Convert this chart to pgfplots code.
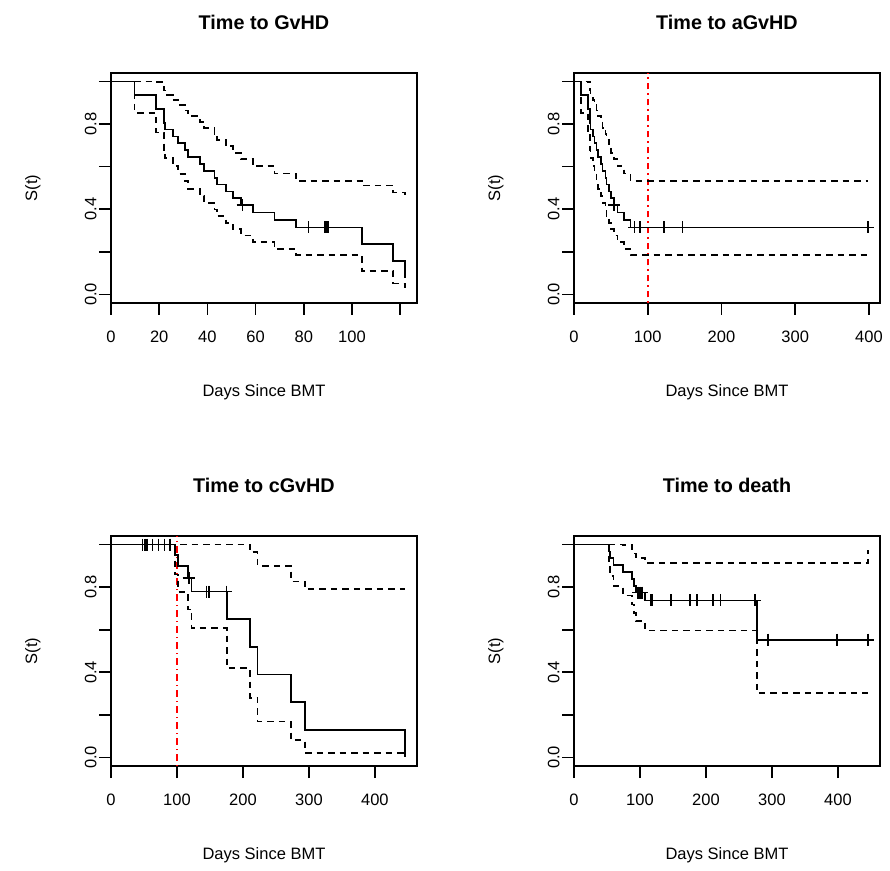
\documentclass[border=0pt]{standalone}
\usepackage{fontspec}
\setmainfont{Liberation Sans}
\usepackage{pgfplots}
\pgfplotsset{compat=1.18}
\pgfplotsset{
  km/.style={
    scale only axis, width=306pt, height=230pt, anchor=south west,
    xmin=0, ymin=-0.04, ymax=1.04,
    axis line style={line width=1.6pt},
    tick align=outside, xtick pos=left, ytick pos=left,
    major tick length=12pt,
    every tick/.style={black, line width=1.6pt},
    ytick={0,0.2,0.4,0.6,0.8,1},
    yticklabels={0.0,,0.4,,0.8,},
    tick label style={font=\fontsize{16.5}{19}\selectfont},
    yticklabel style={rotate=90, anchor=south},
    xticklabel style={anchor=north},
    xticklabel shift=12pt, yticklabel shift=-1pt,
    every axis y label/.style={at={(axis description cs:-0.255,0.5)}, rotate=90, anchor=center, font=\fontsize{16.5}{19}\selectfont},
    every axis x label/.style={at={(axis description cs:0.5,-0.387)}, anchor=center, font=\fontsize{16.5}{19}\selectfont},
    every axis title/.style={at={(axis description cs:0.5,1.222)}, anchor=center, font=\fontsize{19.8}{23}\selectfont\bfseries},
    ylabel={S(t)}, xlabel={Days Since BMT},
    clip=false,
  },
  curve/.style={const plot, black, line width=1.7pt, mark=none},
  ci/.style={const plot, black, line width=1.7pt, mark=none, dash pattern=on 6.5pt off 5pt},
  cens/.style={only marks, black, mark=+, mark size=6pt, mark options={line width=1.6pt, solid}},
  redv/.style={color=red, line width=1.7pt, mark=none, dash pattern=on 1.5pt off 4pt on 6.5pt off 4pt},
}
\begin{document}
\begin{tikzpicture}
\useasboundingbox (0,0) rectangle (890pt,870pt);
% Panel 1: GvHD
\begin{axis}[km, at={(111pt,567pt)}, xmax=127.0, xtick={0,20,40,60,80,100,120}, xticklabels={0,20,40,60,80,100,}, title={Time to GvHD}]
\addplot[curve] coordinates {(0,1) (9.8,0.9355) (18.7,0.8710) (21.9,0.8065) (22.5,0.7742) (25.6,0.7419) (27.9,0.7097) (30.7,0.6774) (32.1,0.6452) (36.9,0.6129) (38.7,0.5806) (42.9,0.5484) (44.0,0.5161) (47.7,0.4839) (50.5,0.4516) (53.9,0.4194) (58.8,0.3844) (67.8,0.3495) (76.8,0.3145) (104.1,0.2359) (117.1,0.1573) (122.1,0.0786)};
\addplot[ci] coordinates {(0,1) (18.7,0.9974) (21.9,0.9582) (22.5,0.9363) (25.6,0.9131) (27.9,0.8889) (30.7,0.8637) (32.1,0.8377) (36.9,0.8108) (38.7,0.7831) (42.9,0.7548) (44.0,0.7257) (47.7,0.6961) (50.5,0.6656) (53.9,0.6346) (58.8,0.6017) (67.8,0.5679) (76.8,0.5330) (104.1,0.5113) (117.1,0.4787) (122.1,0.4649)};
\addplot[ci] coordinates {(0,1) (9.8,0.8529) (18.7,0.7606) (21.9,0.6787) (22.5,0.6401) (25.6,0.6028) (27.9,0.5666) (30.7,0.5313) (32.1,0.4969) (36.9,0.4633) (38.7,0.4305) (42.9,0.3984) (44.0,0.3670) (47.7,0.3364) (50.5,0.3064) (53.9,0.2772) (58.8,0.2456) (67.8,0.2151) (76.8,0.1856) (104.1,0.1088) (117.1,0.0517) (122.1,0.0133)};
\addplot[cens] coordinates {(54.6,0.4194) (82.0,0.3145) (88.9,0.3145) (89.6,0.3145) (90.3,0.3145)};
\end{axis}
% Panel 2: aGvHD
\begin{axis}[km, at={(574pt,567pt)}, xmax=415, xtick={0,100,200,300,400}, xticklabels={0,100,200,300,400}, title={Time to aGvHD}]
\addplot[redv] coordinates {(100,-0.04) (100,1.04)};
\addplot[curve] coordinates {(0,1) (9.8,0.9355) (18.7,0.8710) (21.9,0.8065) (22.5,0.7742) (25.6,0.7419) (27.9,0.7097) (30.7,0.6774) (32.1,0.6452) (36.9,0.6129) (38.7,0.5806) (42.9,0.5484) (44.0,0.5161) (47.7,0.4839) (50.5,0.4516) (53.9,0.4194) (58.8,0.3844) (67.8,0.3495) (76.8,0.3145) (399,0.3145)};
\addplot[ci] coordinates {(0,1) (18.7,0.9974) (21.9,0.9582) (22.5,0.9363) (25.6,0.9131) (27.9,0.8889) (30.7,0.8637) (32.1,0.8377) (36.9,0.8108) (38.7,0.7831) (42.9,0.7548) (44.0,0.7257) (47.7,0.6961) (50.5,0.6656) (53.9,0.6346) (58.8,0.6017) (67.8,0.5679) (76.8,0.5330) (399,0.5330)};
\addplot[ci] coordinates {(0,1) (9.8,0.8529) (18.7,0.7606) (21.9,0.6787) (22.5,0.6401) (25.6,0.6028) (27.9,0.5666) (30.7,0.5313) (32.1,0.4969) (36.9,0.4633) (38.7,0.4305) (42.9,0.3984) (44.0,0.3670) (47.7,0.3364) (50.5,0.3064) (53.9,0.2772) (58.8,0.2456) (67.8,0.2151) (76.8,0.1856) (399,0.1856)};
\addplot[cens] coordinates {(54.6,0.4194) (82.0,0.3145) (88.9,0.3145) (89.6,0.3145) (90.3,0.3145) (122,0.3145) (147,0.3145) (399,0.3145)};
\end{axis}
% Panel 3: cGvHD
\begin{axis}[km, at={(111pt,104pt)}, xmax=463.8, xtick={0,100,200,300,400}, xticklabels={0,100,200,300,400}, title={Time to cGvHD}]
\addplot[redv] coordinates {(100,-0.04) (100,1.04)};
\addplot[curve] coordinates {(0,1) (97.5,0.95) (102,0.9) (116.2,0.84375) (122.2,0.7788) (175.8,0.6490) (210.6,0.5192) (222.2,0.3894) (272.7,0.2596) (293.9,0.1298) (446,0)};
\addplot[ci] coordinates {(0,1) (210.6,0.9634) (222.2,0.9002) (272.7,0.8270) (293.9,0.7903) (446,0.7903)};
\addplot[ci] coordinates {(0,1) (97.5,0.8591) (102,0.7777) (116.2,0.6955) (122.2,0.6072) (175.8,0.4197) (210.6,0.2798) (222.2,0.1684) (272.7,0.0815) (293.9,0.0213) (446,0.0213)};
\addplot[cens] coordinates {(48,1) (51.5,1) (54.5,1) (63.1,1) (72.2,1) (80.8,1) (89.4,1) (117.5,0.84375) (118.3,0.84375) (145,0.7788) (147.5,0.7788) (148.3,0.7788) (175,0.7788)};
\end{axis}
% Panel 4: death
\begin{axis}[km, at={(574pt,104pt)}, xmax=463.8, xtick={0,100,200,300,400}, xticklabels={0,100,200,300,400}, title={Time to death}]
\addplot[curve] coordinates {(0,1) (53,0.9677) (54.5,0.9355) (60,0.9032) (74,0.8710) (87.5,0.8387) (91,0.8065) (94,0.7742) (108,0.7373) (277,0.5530) (446,0.5530)};
\addplot[ci] coordinates {(0,1) (74,0.9974) (87.5,0.9787) (91,0.9582) (94,0.9363) (108,0.9122) (446,0.9122) (446,0.975)};
\addplot[ci] coordinates {(0,1) (53,0.9075) (54.5,0.8529) (60,0.8049) (74,0.7606) (87.5,0.7187) (91,0.6787) (94,0.6401) (108,0.5960) (277,0.3021) (446,0.3021)};
\addplot[cens] coordinates {(97,0.7742) (100,0.7742) (103.5,0.7742) (117,0.7373) (118,0.7373) (146,0.7373) (147,0.7373) (175,0.7373) (176,0.7373) (186,0.7373) (211,0.7373) (222,0.7373) (274,0.7373) (294,0.5530) (399,0.5530) (446,0.5530)};
\end{axis}
\end{tikzpicture}
\end{document}
